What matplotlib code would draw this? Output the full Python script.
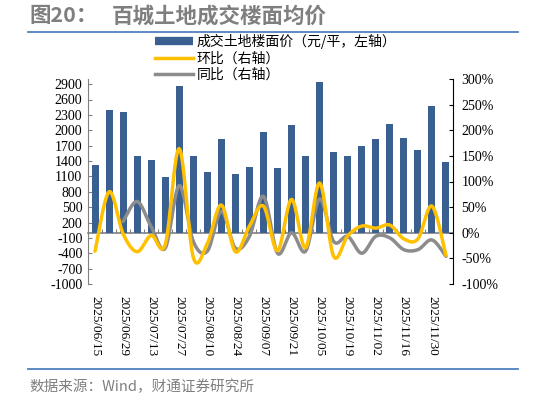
import matplotlib
matplotlib.use("Agg")
import matplotlib.pyplot as plt
import numpy as np
from matplotlib.lines import Line2D

plt.rcParams['font.family'] = ['Noto Sans CJK SC', 'DejaVu Sans']

dates = ["2025/06/15", "2025/06/22", "2025/06/29", "2025/07/06", "2025/07/13", "2025/07/20",
         "2025/07/27", "2025/08/03", "2025/08/10", "2025/08/17", "2025/08/24", "2025/08/31",
         "2025/09/07", "2025/09/14", "2025/09/21", "2025/09/28", "2025/10/05", "2025/10/12",
         "2025/10/19", "2025/10/26", "2025/11/02", "2025/11/09", "2025/11/16", "2025/11/23",
         "2025/11/30", "2025/12/07"]
price = [1330, 2400, 2360, 1490, 1410, 1080, 2860, 1500, 1180, 1820, 1140, 1290, 1960,
         1270, 2110, 1500, 2950, 1575, 1490, 1690, 1835, 2115, 1850, 1620, 2470, 1375]
mom = [-36, 80, -2, -37, -5, -23, 164, -48, -21, 54, -37, 13, 52, -35, 65, -29, 97,
       -46, -6, 13, 9, 15, -12, -12, 52, -44]
yoy = [None, None, 22, 61, 12, -30, 92, -17, -36, 42, -30, -7, 71, -40, 0, -36, 66,
       -17, -7, -40, -7, -10, -33, -33, -14, -46]

left_ticks = list(range(-1000, 3000, 300))
right_ticks = list(range(-100, 301, 50))

BLUE = '#3A6091'
YELLOW = '#FFC000'
GRAY = '#8C8C8C'
TXT_GRAY = '#7F7F7F'
LINE_BLUE = '#4F81BD'


def smooth(xs, ys, n=24):
    xs = np.asarray(xs, float)
    ys = np.asarray(ys, float)
    P = np.column_stack([xs, ys])
    out = [P[0]]
    for i in range(len(P) - 1):
        p0 = P[i - 1] if i > 0 else P[i]
        p1 = P[i]
        p2 = P[i + 1]
        p3 = P[i + 2] if i + 2 < len(P) else P[i + 1]
        c1 = p1 + (p2 - p0) / 6.0
        c2 = p2 - (p3 - p1) / 6.0
        t = np.linspace(0, 1, n)[1:, None]
        seg = ((1 - t) ** 3) * p1 + 3 * ((1 - t) ** 2) * t * c1 + 3 * (1 - t) * t ** 2 * c2 + t ** 3 * p2
        out.extend(seg)
    out = np.array(out)
    return out[:, 0], out[:, 1]


fig = plt.figure(figsize=(5.33, 3.99), dpi=100)
ax = fig.add_axes([88 / 533, 1 - 284 / 399, (453 - 88) / 533, (284 - 79) / 399])
x = np.arange(len(dates))
ax.bar(x, price, width=0.5, color=BLUE, zorder=2)
ax.set_xlim(-0.5, len(dates) - 0.5)
ax.set_ylim(-1000, 3000)
ax.set_yticks(left_ticks)
ax.set_yticklabels([str(v) for v in left_ticks], family='Liberation Serif', fontsize=10)
ax.tick_params(axis='y', direction='in', length=3, color='#808080', pad=4)
for s in ['top', 'right', 'bottom']:
    ax.spines[s].set_visible(False)
ax.spines['left'].set_color('#808080')
ax.set_xticks(x[::2])
ax.set_xticklabels(dates[::2], rotation=-90, family='Liberation Serif', fontsize=9.5)
ax.tick_params(axis='x', length=0, pad=9)

# zero line with boundary ticks
sec = ax.secondary_xaxis(0.25)
sec.set_xticks(np.arange(0.5, len(dates) - 0.5, 1.0))
sec.tick_params(axis='x', direction='in', length=3, color='#808080', labelbottom=False)
sec.spines['bottom'].set_color('#808080')
sec.spines['bottom'].set_linewidth(1.2)

ax2 = ax.twinx()
ax2.set_ylim(-100, 300)
ax2.set_yticks(right_ticks)
ax2.set_yticklabels([f"{v}%" for v in right_ticks], family='Liberation Serif', fontsize=10)
ax2.tick_params(axis='y', direction='in', length=3, color='black', pad=6)
for s in ['top', 'left', 'bottom']:
    ax2.spines[s].set_visible(False)

sx, sy = smooth(x, mom)
ax2.plot(sx, sy, color=YELLOW, lw=2.5, zorder=4, solid_capstyle='round')
yv = [(i, v) for i, v in enumerate(yoy) if v is not None]
gx, gy = smooth([a for a, _ in yv], [b for _, b in yv])
ax2.plot(gx, gy, color=GRAY, lw=2.5, zorder=3, solid_capstyle='round')

handles = [Line2D([], [], color=BLUE, lw=6, solid_capstyle='butt'),
           Line2D([], [], color=YELLOW, lw=2.5),
           Line2D([], [], color=GRAY, lw=2.5)]
labels = ["成交土地楼面价（元/平，左轴）", "环比（右轴）", "同比（右轴）"]
fig.legend(handles, labels, loc='upper left', bbox_to_anchor=(155 / 533, 1 - 34 / 399),
           frameon=False, fontsize=10, handlelength=2.7, handletextpad=0.3,
           labelspacing=0.17, borderpad=0, borderaxespad=0)

fig.text(29 / 533, 1 - 16 / 399, "图20：", fontsize=15.5, color=TXT_GRAY, weight='bold', va='center')
fig.text(112 / 533, 1 - 16 / 399, "百城土地成交楼面均价", fontsize=15.5, color=TXT_GRAY,
         weight='bold', va='center')
fig.add_artist(Line2D([28 / 533, 518 / 533], [1 - 32 / 399, 1 - 32 / 399], color=LINE_BLUE, lw=1.3))
fig.add_artist(Line2D([28 / 533, 518 / 533], [1 - 369 / 399, 1 - 369 / 399], color=LINE_BLUE, lw=1.3))
fig.text(29 / 533, 1 - 387 / 399, "数据来源：Wind，财通证券研究所", fontsize=10.5, color=TXT_GRAY, va='center')

fig.savefig("out.png", dpi=100)
